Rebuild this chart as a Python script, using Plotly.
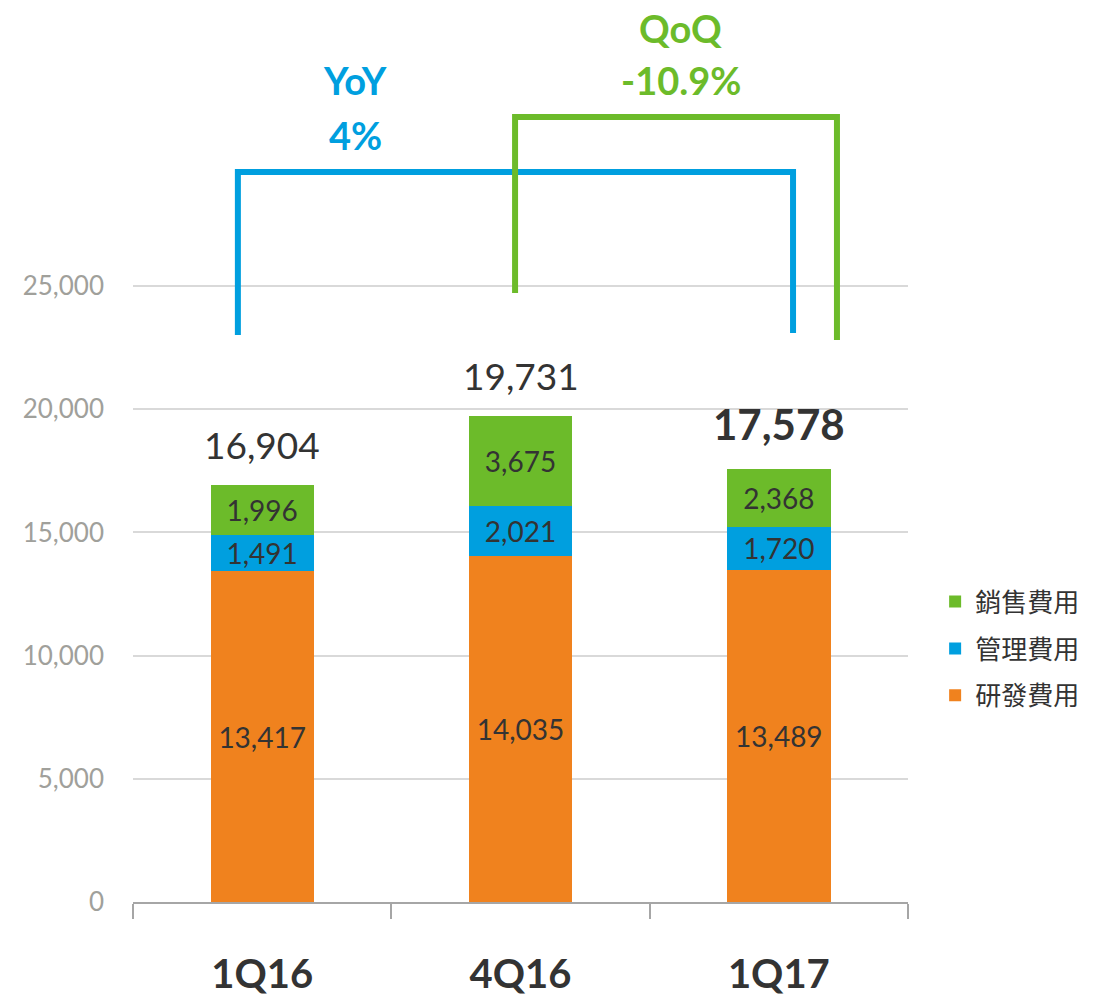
import plotly.graph_objects as go

categories = ["1Q16", "4Q16", "1Q17"]
rd = [13417, 14035, 13489]        # 研發費用
admin = [1491, 2021, 1720]        # 管理費用
sales = [1996, 3675, 2368]        # 銷售費用
totals = [16904, 19731, 17578]
series_names = ["研發費用", "管理費用", "銷售費用"]
yoy_label = ["YoY", "4%"]
qoq_label = ["QoQ", "-10.9%"]
y_ticks = [0, 5000, 10000, 15000, 20000, 25000]

ORANGE = "#f0821e"
BLUE = "#009fdf"
GREEN = "#6cbb2a"
TXT = "#333333"
FONT = "Lato, 'Noto Sans', sans-serif"
CJK = "'Noto Sans CJK TC', sans-serif"

fig = go.Figure()
for k, (name, vals, col) in enumerate(zip(series_names, [rd, admin, sales], [ORANGE, BLUE, GREEN])):
    fig.add_trace(go.Bar(
        x=categories, y=vals, name=name, marker=dict(color=col, line=dict(width=0)),
        text=[f"{v:,}" for v in vals], textposition="inside", insidetextanchor="middle",
        textfont=dict(size=28, color=TXT, family=FONT), constraintext="none",
        legendgroup=name, legendrank=1000 - k, width=0.4,
    ))

for i, t in enumerate(totals):
    last = i == len(totals) - 1
    fig.add_annotation(
        x=categories[i], y=t, text=(f"<b>{t:,}</b>" if last else f"{t:,}"),
        showarrow=False, yanchor="bottom", yshift=(18 if last else 16),
        font=dict(size=42 if last else 37, color=TXT, family=FONT),
    )

# brackets (x in category index units)
LW = 6
fig.add_shape(type="path", path="M -0.094,23011 L -0.094,29627 L 2.055,29627 L 2.055,23093",
              line=dict(color=BLUE, width=LW), layer="above")
fig.add_shape(type="path", path="M 0.979,24716 L 0.979,31858 L 2.225,31858 L 2.225,22808",
              line=dict(color=GREEN, width=LW), layer="above")

for txt, yv in zip(yoy_label, [33360, 31128]):
    fig.add_annotation(x=0.36, y=yv, text=f"<b>{txt}</b>", showarrow=False,
                       font=dict(size=38, color=BLUE, family=FONT))
for txt, yv in zip(qoq_label, [35471, 33360]):
    fig.add_annotation(x=1.62, y=yv, text=f"<b>{txt}</b>", showarrow=False,
                       font=dict(size=38, color=GREEN, family=FONT))

fig.update_layout(
    width=1098, height=998, barmode="stack", bargap=0.6,
    paper_bgcolor="white", plot_bgcolor="white",
    margin=dict(l=133, r=190, t=0, b=96),
    showlegend=True,
    legend=dict(x=1.035, y=0.359, xanchor="left", yanchor="top", traceorder="grouped",
                font=dict(size=26, color=TXT, family=CJK), tracegroupgap=10,
                itemwidth=30),
    xaxis=dict(showline=True, linecolor="#a6a6a6", linewidth=1.5,
               ticks="outside", tickson="boundaries", ticklen=15, tickcolor="#a6a6a6", tickwidth=1.5,
               tickfont=dict(size=40, color=TXT, family=FONT + ", bold", weight="bold"),
               ticklabelstandoff=36, range=[-0.5, 2.5]),
    yaxis=dict(range=[0, 36607], tickvals=y_ticks, tickformat=",", showgrid=True,
               gridcolor="#d9d9d9", gridwidth=1.5, zeroline=False, showline=False,
               tickfont=dict(size=26, color="#a0a09b", family=FONT), ticklabelstandoff=28),
)

fig.write_html("out.html")
